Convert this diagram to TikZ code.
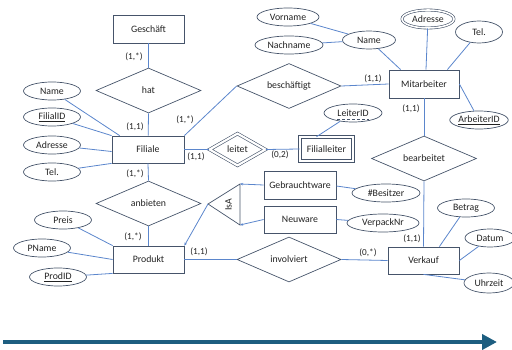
\documentclass[tikz,border=0pt]{standalone}
\usepackage{fontspec}
\setmainfont{Carlito}
\usetikzlibrary{shapes.geometric,arrows.meta,calc}
\definecolor{shapeline}{HTML}{46546A}
\definecolor{conn}{HTML}{5B86CC}
\definecolor{txt}{HTML}{222222}
\definecolor{flow}{HTML}{1D5E80}
\tikzset{
  every node/.style={font=\fontsize{9.8}{11}\selectfont, text=txt},
  entity/.style={draw=shapeline, line width=0.8pt, rectangle, minimum width=71pt, minimum height=27pt, inner sep=0pt},
  weakentity/.style={entity, double, double distance=2.2pt, line width=0.6pt, minimum width=53pt, minimum height=24pt},
  rel/.style={draw=shapeline, line width=0.7pt, diamond, aspect=2.3, minimum width=105pt, minimum height=45pt, inner sep=0pt},
  weakrel/.style={rel, double, double distance=2.2pt, line width=0.6pt, minimum width=56pt, minimum height=32pt},
  attr/.style={draw=shapeline, line width=0.7pt, ellipse, minimum width=57pt, minimum height=18pt, inner sep=0pt},
  multiattr/.style={attr, double, double distance=1.6pt, line width=0.6pt},
  card/.style={font=\fontsize{9.2}{11}\selectfont},
  link/.style={draw=conn, line width=0.8pt},
  isatip/.style={-{Stealth[length=3pt,width=2.6pt]}}
}
\begin{document}
\begin{tikzpicture}[x=1pt,y=-1pt]
\useasboundingbox (0,0) rectangle (512,350);

% entities
\node[entity, minimum height=28pt] (gesch) at (148.5,29) {Geschäft};
\node[entity, minimum width=72pt] (fil) at (148,149.5) {Filiale};
\node[entity, minimum width=70pt, minimum height=28pt] (mit) at (424,84) {Mitarbeiter};
\node[weakentity] (fl) at (326.5,149) {Filialleiter};
\node[entity] (prod) at (148.5,259.5) {Produkt};
\node[entity, minimum width=72pt, minimum height=28pt] (gebr) at (300,185) {Gebrauchtware};
\node[entity, minimum width=72pt] (neu) at (300,219.5) {Neuware};
\node[entity] (verk) at (423.5,260.5) {Verkauf};

% relationships
\node[rel] (hat) at (148.5,90.5) {hat};
\node[rel, minimum width=104pt] (besch) at (289,86) {beschäftigt};
\node[weakrel] (leitet) at (237.5,149.5) {leitet};
\node[rel] (bearb) at (424,158.5) {bearbeitet};
\node[rel] (anb) at (148.5,203.5) {anbieten};
\node[rel, minimum width=104pt] (inv) at (289,259.5) {involviert};

% attributes of Filiale
\node[attr] (fname) at (52,91) {Name};
\node[attr] (fid) at (52,117) {\underline{FilialID}};
\node[attr] (fadr) at (52,145) {Adresse};
\node[attr] (ftel) at (52,172) {Tel.};

% attributes of Mitarbeiter
\node[attr, minimum width=53pt] (mname) at (369,40) {Name};
\node[attr, minimum width=62pt] (vorname) at (288,17) {Vorname};
\node[attr, minimum width=68pt] (nachname) at (289,45) {Nachname};
\node[multiattr, minimum width=52pt, minimum height=18pt] (madr) at (428,19) {Adresse};
\node[attr, minimum width=47pt, minimum height=22pt] (mtel) at (479,32) {Tel.};
\node[attr, minimum width=58pt] (arbid) at (479,120) {\underline{ArbeiterID}};

% partial key of Filialleiter
\node[attr, minimum width=58pt] (lid) at (353,113) {LeiterID};
\draw[shapeline, densely dashed, line width=0.5pt] ([shift={(-16,6)}]lid.center) -- ([shift={(16,6)}]lid.center);

% attributes of Produkt
\node[attr] (preis) at (63,220) {Preis};
\node[attr] (pname) at (42,248) {PName};
\node[attr] (prodid) at (58,277) {\underline{ProdID}};

% attributes of the subtypes
\node[attr, minimum width=68pt] (bes) at (386,193) {\#Besitzer};
\node[attr, minimum width=72pt] (vpn) at (383,223) {VerpackNr};

% attributes of Verkauf
\node[attr] (betrag) at (466,208) {Betrag};
\node[attr, minimum width=50pt] (datum) at (490,238) {Datum};
\node[attr, minimum width=50pt, minimum height=20pt] (uhr) at (489,283) {Uhrzeit};

% IsA triangle
\coordinate (isaL) at (208,204);
\coordinate (isaT) at (240,184);
\coordinate (isaB) at (240,225);
\draw[shapeline, line width=0.7pt] (isaL) -- (isaT) -- (isaB) -- cycle;
\node[rotate=90] (isa) at (228.5,204.5) {IsA};

% relationship lines
\draw[link] (gesch) -- (hat.north);
\draw[link] (hat.south) -- (fil);
\draw[link] (fil.north east) -- (besch.west);
\draw[link] (besch.east) -- (mit.west);
\draw[link] (fil.east) -- (leitet.west);
\draw[link] (leitet.east) -- (fl.west);
\draw[link] (fil.south) -- (anb.north);
\draw[link] (anb.south) -- (prod.north);
\draw[link] (prod.east) -- (inv.west);
\draw[link] (inv.east) -- (verk.west);
\draw[link] (mit.south) -- (bearb.north);
\draw[link] (bearb.south) -- (verk.north);

% attribute lines
\draw[link] (fname) -- ([xshift=8pt]fil.north west);
\draw[link] (fid) -- (fil.north west);
\draw[link] (fadr) -- ([yshift=-2pt]fil.west);
\draw[link] (ftel) -- (fil.south west);
\draw[link] (vorname) -- (mname);
\draw[link] (nachname) -- (mname);
\draw[link] (mname) -- ([xshift=12pt]mit.north west);
\draw[link] (madr) -- ([xshift=2pt]mit.north);
\draw[link] (mtel) -- ([xshift=-12pt]mit.north east);
\draw[link] (arbid) -- (mit.east);
\draw[link] (lid) -- ([xshift=-10pt]fl.north);
\draw[link] (preis) -- (prod.north west);
\draw[link] (pname) -- (prod.west);
\draw[link] (prodid) -- (prod.south west);
\draw[link] ([yshift=-1pt]gebr.east) -- (bes);
\draw[link] (neu.east) -- (vpn);
\draw[link] (betrag) -- ([xshift=-20pt]verk.north east);
\draw[link] (datum) -- (verk.east);
\draw[link] (uhr) -- (verk.south);

% IsA lines
\draw[link, isatip] (gebr.west) -- (isaT);
\draw[link, isatip] (neu.west) -- (isaB);
\draw[link, isatip] (isaL) -- (prod.north east);

% cardinalities
\node[card] (c1) at (134,57) {(1,*)};
\node[card] (c2) at (135,127) {(1,1)};
\node[card] (c3) at (185,120) {(1,*)};
\node[card] (c4) at (196,157) {(1,1)};
\node[card] (c5) at (280,155) {(0,2)};
\node[card] (c6) at (373,79) {(1,1)};
\node[card] (c7) at (411,109) {(1,1)};
\node[card] (c8) at (135,174) {(1,*)};
\node[card] (c9) at (133,237) {(1,*)};
\node[card] (c10) at (199,252) {(1,1)};
\node[card] (c11) at (368,253) {(0,*)};
\node[card] (c12) at (412,239) {(1,1)};

% flow arrow along the bottom
\coordinate (flowS) at (3,342);
\coordinate (flowE) at (497,342);
\draw[flow, line width=4pt, -{Triangle[length=15pt,width=15pt]}] (flowS) -- (flowE);
\end{tikzpicture}
\end{document}
